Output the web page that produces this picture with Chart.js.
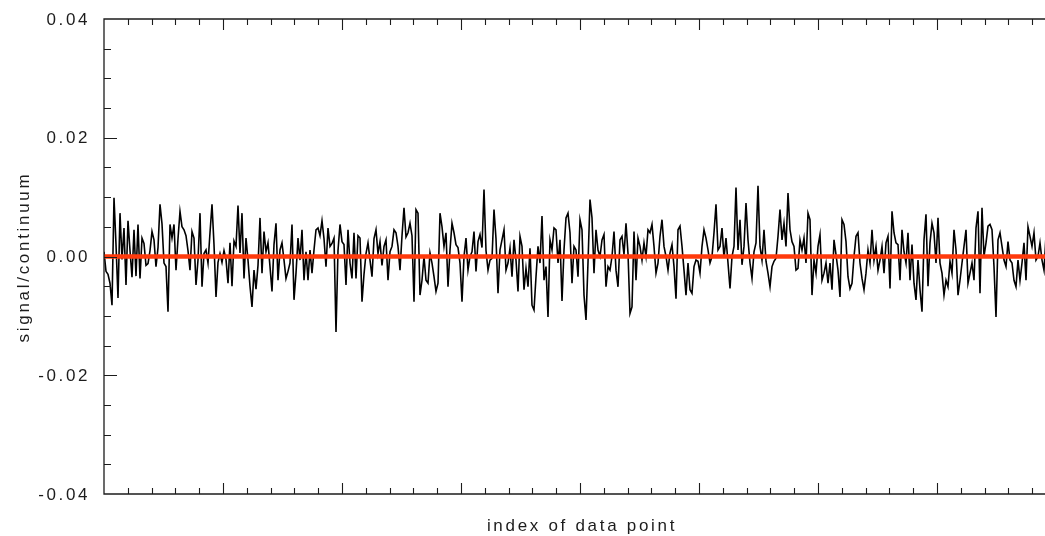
<!DOCTYPE html>
<html>
<head>
<meta charset="utf-8">
<title>signal/continuum</title>
<script src="https://cdn.jsdelivr.net/npm/chart.js@4"></script>
<style>
  html, body { margin: 0; padding: 0; background: #fff; }
  #wrap { width: 1045px; height: 536px; position: relative; }
</style>
</head>
<body>
<div id="wrap"><canvas id="chart"></canvas></div>
<script>
// residual spectrum, one value per data point
const signal = [
  0.0008, -0.0025, -0.0030, -0.0045, -0.0082, 0.0099, 0.0020, -0.0070, 0.0073, -0.0005,
  0.0048, -0.0048, 0.0060, 0.0010, -0.0035, 0.0045, -0.0033, 0.0054, -0.0037, 0.0031,
  0.0022, -0.0015, -0.0012, 0.0010, 0.0042, 0.0028, -0.0017, 0.0015, 0.0088, 0.0055,
  -0.0011, -0.0017, -0.0093, 0.0054, 0.0031, 0.0054, -0.0023, 0.0030, 0.0076, 0.0050,
  0.0045, 0.0035, 0.0010, -0.0023, 0.0042, 0.0031, -0.0048, -0.0006, 0.0073, -0.0051,
  0.0005, 0.0011, -0.0011, 0.0040, 0.0088, 0.0020, -0.0068, -0.0010,
  0.0005, -0.0010, 0.0010, -0.0005, -0.0045, 0.0023, -0.0050, 0.0026, 0.0017, 0.0086,
  0.0006, 0.0073, -0.0037, 0.0031, -0.0006, -0.0050, -0.0085, -0.0023, -0.0055, -0.0015,
  0.0065, -0.0028, 0.0042, 0.0008, 0.0023, -0.0017, -0.0059, 0.0020, 0.0056, -0.0040,
  0.0011, 0.0023, -0.0006, -0.0037, -0.0025, -0.0011, 0.0054, -0.0073, -0.0028, 0.0031,
  -0.0006, 0.0045, -0.0040, 0.0008, -0.0040, 0.0011, -0.0028, 0.0011, 0.0045, 0.0048,
  0.0035, 0.0060, 0.0030, -0.0017, 0.0048, 0.0017, 0.0022, 0.0031,
  -0.0127, 0.0010, 0.0054, 0.0025, 0.0020, -0.0048, 0.0045, -0.0011, -0.0037, 0.0040,
  -0.0037, 0.0035, 0.0031, -0.0076, -0.0030, 0.0005, 0.0023, -0.0006, -0.0034, 0.0030,
  0.0045, 0.0005, 0.0025, -0.0015, 0.0017, 0.0028, -0.0040, 0.0008, 0.0017, 0.0045,
  0.0040, 0.0017, -0.0023, 0.0035, 0.0082, 0.0033, 0.0040, 0.0056, 0.0035, -0.0076,
  0.0079, 0.0073, -0.0065, -0.0040, 0.0000, -0.0040, -0.0045, 0.0006, -0.0011, -0.0034,
  -0.0059, -0.0045, 0.0073, 0.0050, 0.0017, 0.0040, -0.0051,
  0.0011, 0.0056, 0.0040, 0.0020, 0.0015, -0.0011, -0.0076, 0.0000, 0.0031, -0.0023,
  0.0000, 0.0008, 0.0042, -0.0025, 0.0025, 0.0037, 0.0015, 0.0113, 0.0010, -0.0023,
  -0.0006, -0.0003, 0.0079, 0.0030, -0.0062, 0.0011, 0.0028, 0.0045, -0.0023, -0.0011,
  0.0014, -0.0034, 0.0028, -0.0006, -0.0059, 0.0034, 0.0017, -0.0056, -0.0020, -0.0051,
  0.0014, -0.0082, -0.0090, -0.0034, 0.0017, -0.0011, 0.0068, -0.0040, -0.0017, -0.0102,
  0.0028, 0.0011, 0.0048, 0.0045, -0.0011, 0.0028, -0.0075, 0.0011,
  0.0065, 0.0073, 0.0040, -0.0045, 0.0017, 0.0011, -0.0034, 0.0062, 0.0045, -0.0065,
  -0.0107, -0.0010, 0.0096, 0.0065, -0.0028, 0.0045, 0.0011, 0.0000, 0.0028, 0.0037,
  -0.0051, -0.0017, -0.0023, 0.0000, 0.0042, -0.0023, -0.0051, 0.0028, 0.0034, 0.0003,
  0.0056, 0.0005, -0.0096, -0.0085, 0.0042, -0.0040, 0.0031, 0.0017, -0.0006, 0.0023,
  0.0000, 0.0045, 0.0040, 0.0054, 0.0017, -0.0028, -0.0011, 0.0034, 0.0062, 0.0017,
  0.0000, -0.0023, 0.0006, 0.0020, -0.0017, -0.0071, 0.0045,
  0.0051, 0.0017, -0.0023, -0.0065, -0.0011, -0.0056, -0.0062, -0.0017, -0.0006, -0.0008,
  -0.0028, 0.0017, 0.0045, 0.0031, 0.0011, -0.0011, 0.0000, 0.0040, 0.0088, 0.0011,
  0.0017, 0.0048, -0.0002, 0.0031, -0.0011, -0.0054, 0.0000, 0.0017, 0.0116, 0.0011,
  0.0062, -0.0014, 0.0017, 0.0090, 0.0028, -0.0011, -0.0037, 0.0008, 0.0023, 0.0119,
  0.0017, -0.0006, 0.0045, -0.0008, -0.0028, -0.0051, -0.0017, -0.0008, -0.0003, 0.0034,
  0.0079, 0.0028, 0.0056, 0.0017, 0.0107, 0.0045, 0.0025, 0.0017,
  -0.0023, -0.0020, 0.0028, 0.0011, 0.0031, -0.0011, 0.0073, 0.0062, -0.0065, -0.0006,
  -0.0028, 0.0017, 0.0037, -0.0040, -0.0028, -0.0011, -0.0045, -0.0011, -0.0056, 0.0028,
  0.0003, -0.0023, -0.0068, 0.0062, 0.0054, 0.0025, -0.0034, -0.0054, -0.0045, 0.0000,
  0.0034, 0.0040, -0.0011, -0.0037, -0.0056, -0.0028, 0.0011, -0.0011, 0.0045, -0.0006,
  0.0017, -0.0023, -0.0006, 0.0017, -0.0028, 0.0023, 0.0034, -0.0054, 0.0076, 0.0040,
  0.0023, 0.0020, -0.0040, 0.0045, 0.0008, -0.0011, 0.0040,
  -0.0040, 0.0020, -0.0045, -0.0073, -0.0006, -0.0056, -0.0093, 0.0028, 0.0071, -0.0050,
  0.0023, 0.0056, 0.0040, -0.0011, 0.0065, -0.0011, -0.0028, -0.0065, -0.0040, -0.0051,
  -0.0008, -0.0028, 0.0045, 0.0011, -0.0065, -0.0040, -0.0011, 0.0017, 0.0045, -0.0045,
  -0.0028, -0.0011, -0.0040, 0.0048, 0.0076, -0.0062, 0.0082, 0.0000, 0.0023, 0.0051,
  0.0054, 0.0045, -0.0017, -0.0102, 0.0028, 0.0040, 0.0017, -0.0006, -0.0017, 0.0025,
  -0.0006, -0.0011, -0.0040, -0.0051, -0.0006, -0.0040, -0.0011, 0.0023, -0.0040, 0.0050,
  0.0034, 0.0017, 0.0040, -0.0006, 0.0000, 0.0023, -0.0006, -0.0023, 0.0035, -0.0015,
  0.0030, -0.0010
];

// continuum level (flat at zero)
const continuumX = [0, 470.5];
const continuumY = [0, 0];

const yTickValues = [0.04, 0.02, 0, -0.02, -0.04];
const yTickLabels = ["0.04", "0.02", "0.00", "-0.02", "-0.04"];
const xTitle = "index of data point";
const yTitle = "signal/continuum";

const X_MAX = 470.5;
const X_MAJOR = 59.5;
const X_MINOR = X_MAJOR / 5;
const Y_MINOR = 0.005;

const ink = "#1c1c1c";

// frame, inward ticks and text (letter-spaced like the original plot)
const framePlugin = {
  id: "frame",
  afterDraw(chart) {
    const { ctx, chartArea: a, scales } = chart;
    const xs = scales.x, ys = scales.y;
    ctx.save();
    ctx.strokeStyle = ink;
    ctx.lineWidth = 1.3;

    ctx.beginPath();
    ctx.moveTo(a.right + 2, a.top);
    ctx.lineTo(a.left, a.top);
    ctx.lineTo(a.left, a.bottom);
    ctx.lineTo(a.right + 2, a.bottom);
    ctx.stroke();

    ctx.lineWidth = 1.1;
    ctx.beginPath();
    for (let k = 1; k * X_MINOR <= X_MAX; k++) {
      const px = Math.round(xs.getPixelForValue(k * X_MINOR)) + 0.5;
      const len = k % 5 === 0 ? 11 : 6;
      ctx.moveTo(px, a.bottom);
      ctx.lineTo(px, a.bottom - len);
      ctx.moveTo(px, a.top);
      ctx.lineTo(px, a.top + len);
    }
    for (let k = -7; k <= 7; k++) {
      const py = Math.round(ys.getPixelForValue(k * Y_MINOR)) + 0.5;
      const len = k % 4 === 0 ? 13 : 7;
      ctx.moveTo(a.left, py);
      ctx.lineTo(a.left + len, py);
    }
    ctx.stroke();

    ctx.fillStyle = ink;
    ctx.font = "17px 'Liberation Sans', Arial, sans-serif";
    ctx.letterSpacing = "2.6px";
    ctx.textAlign = "right";
    ctx.textBaseline = "middle";
    yTickValues.forEach((v, i) => {
      ctx.fillText(yTickLabels[i], a.left - 14, ys.getPixelForValue(v) + 1);
    });

    ctx.letterSpacing = "2.7px";
    ctx.textAlign = "center";
    ctx.textBaseline = "alphabetic";
    ctx.fillText(xTitle, 582, 531);

    ctx.translate(29, 257);
    ctx.rotate(-Math.PI / 2);
    ctx.fillText(yTitle, 0, 0);
    ctx.restore();
  }
};

new Chart(document.getElementById("chart"), {
  type: "line",
  data: {
    datasets: [
      {
        data: continuumX.map((x, i) => ({ x, y: continuumY[i] })),
        borderColor: "#ff3a0c",
        borderWidth: 4.5,
        pointRadius: 0,
        order: 0
      },
      {
        data: signal.map((y, i) => ({ x: i, y })),
        borderColor: "#000",
        borderWidth: 1.6,
        pointRadius: 0,
        tension: 0,
        order: 1
      }
    ]
  },
  options: {
    responsive: true,
    maintainAspectRatio: false,
    animation: false,
    layout: { padding: { left: 104, top: 19, right: 0, bottom: 42 } },
    plugins: { legend: { display: false }, tooltip: { enabled: false } },
    scales: {
      x: { type: "linear", min: 0, max: X_MAX, display: false },
      y: { type: "linear", min: -0.04, max: 0.04, display: false }
    }
  },
  plugins: [framePlugin]
});
</script>
</body>
</html>
